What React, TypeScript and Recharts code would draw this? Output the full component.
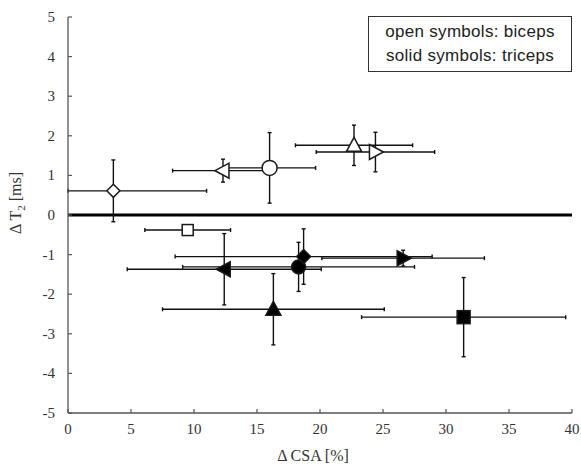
import React from 'react';
import { ScatterChart, Scatter, XAxis, YAxis, ErrorBar, ReferenceLine, Label } from 'recharts';

// Symbol per point: open = biceps, solid = triceps
const markerShapes = [
  'diamond', 'triangleLeft', 'circle', 'triangleUp', 'triangleRight', 'square',
  'triangleLeft', 'circle', 'diamond', 'triangleRight', 'triangleUp', 'square',
];
const markerSolid = [
  false, false, false, false, false, false,
  true, true, true, true, true, true,
];
// ΔCSA [%]
const csaValues = [3.6, 12.3, 16.0, 22.7, 24.4, 9.5, 12.4, 18.3, 18.7, 26.6, 16.3, 31.4];
// ΔT2 [ms]
const t2Values = [0.61, 1.12, 1.19, 1.76, 1.59, -0.38, -1.37, -1.31, -1.05, -1.09, -2.38, -2.58];
// error in ΔCSA
const csaErrors: (number | number[])[] = [[3.6, 7.4], 4.0, 3.65, 4.65, 4.7, 3.4, 7.7, 9.2, 10.2, 6.45, 8.8, 8.1];
// error in ΔT2
const t2Errors = [0.78, 0.29, 0.89, 0.51, 0.5, 0, 0.9, 0.62, 0.7, 0.2, 0.9, 1.0];

const xTicks = [0, 5, 10, 15, 20, 25, 30, 35, 40];
const yTicks = [-5, -4, -3, -2, -1, 0, 1, 2, 3, 4, 5];

const data = csaValues.map((x, i) => ({
  x,
  y: t2Values[i],
  ex: csaErrors[i],
  ey: t2Errors[i],
  shape: markerShapes[i],
  solid: markerSolid[i],
}));

const SERIF = '"Liberation Serif", "Times New Roman", serif';

const Marker = (props: any) => {
  const { cx, cy, payload } = props;
  if (cx == null || cy == null) return null;
  const fill = payload.solid ? '#000' : '#fff';
  const stroke = '#1a1a1a';
  const sw = 1.5;
  switch (payload.shape) {
    case 'circle':
      return <circle cx={cx} cy={cy} r={payload.solid ? 7 : 7.5} fill={fill} stroke={stroke} strokeWidth={sw} />;
    case 'diamond': {
      const d = payload.solid ? 7 : 6.5;
      return <polygon points={`${cx},${cy - d} ${cx + d},${cy} ${cx},${cy + d} ${cx - d},${cy}`} fill={fill} stroke={stroke} strokeWidth={sw} />;
    }
    case 'square': {
      const h = payload.solid ? 6.5 : 5.5;
      return <rect x={cx - h} y={cy - h} width={2 * h} height={2 * h} fill={fill} stroke={stroke} strokeWidth={sw} />;
    }
    case 'triangleUp':
      return <polygon points={`${cx},${cy - 8} ${cx + 7.5},${cy + 6} ${cx - 7.5},${cy + 6}`} fill={fill} stroke={stroke} strokeWidth={sw} />;
    case 'triangleLeft':
      return <polygon points={`${cx - 8},${cy} ${cx + 6},${cy - 7.5} ${cx + 6},${cy + 7.5}`} fill={fill} stroke={stroke} strokeWidth={sw} />;
    case 'triangleRight':
      return <polygon points={`${cx + 8},${cy} ${cx - 6},${cy - 7.5} ${cx - 6},${cy + 7.5}`} fill={fill} stroke={stroke} strokeWidth={sw} />;
    default:
      return null;
  }
};

const XTick = (props: any) => {
  const { x, y, payload } = props;
  return (
    <text x={x} y={y + 11} textAnchor="middle" fontFamily={SERIF} fontSize={15} fill="#333">
      {payload.value}
    </text>
  );
};

const YTick = (props: any) => {
  const { x, y, payload } = props;
  return (
    <text x={x} y={y + 5} textAnchor="end" fontFamily={SERIF} fontSize={15} fill="#333">
      {payload.value}
    </text>
  );
};

const axisLine = { stroke: '#555', strokeWidth: 1.3 };
const tickLine = { stroke: '#555', strokeWidth: 1.2 };

const YTitle = () => (
  <text
    x={21}
    y={203}
    transform="rotate(-90 21 203)"
    textAnchor="middle"
    fontFamily={SERIF}
    fontSize={16}
    fill="#333"
  >
    <tspan>Δ T</tspan>
    <tspan dy={4} fontSize={11}>2</tspan>
    <tspan dy={-4}> [ms]</tspan>
  </text>
);

const XTitle = () => (
  <text x={313} y={461} textAnchor="middle" fontFamily={SERIF} fontSize={16} fill="#333">
    Δ CSA [%]
  </text>
);

export default function App() {
  return (
    <div style={{ position: 'absolute', left: 0, top: 0, width: 581, height: 470, background: '#fff' }}>
      <ScatterChart width={581} height={470} margin={{ top: 17, right: 9, bottom: 0, left: 0 }}>
        <XAxis
          type="number"
          dataKey="x"
          domain={[0, 40]}
          ticks={xTicks}
          allowDataOverflow
          height={57}
          tickSize={-4}
          tickMargin={14}
          tick={<XTick />}
          axisLine={axisLine}
          tickLine={tickLine}
        >
          <Label content={<XTitle />} />
        </XAxis>
        <XAxis
          xAxisId="top"
          orientation="top"
          type="number"
          domain={[0, 40]}
          ticks={xTicks}
          height={0}
          tickSize={-4}
          tick={false}
          axisLine={axisLine}
          tickLine={tickLine}
        />
        <YAxis
          type="number"
          dataKey="y"
          domain={[-5, 5]}
          ticks={yTicks}
          allowDataOverflow
          width={68}
          tickSize={-4}
          tickMargin={17}
          tick={<YTick />}
          axisLine={axisLine}
          tickLine={tickLine}
        >
          <Label content={<YTitle />} />
        </YAxis>
        <YAxis
          yAxisId="right"
          orientation="right"
          type="number"
          domain={[-5, 5]}
          ticks={yTicks}
          width={0}
          tickSize={-4}
          tick={false}
          axisLine={axisLine}
          tickLine={tickLine}
        />
        <ReferenceLine y={0} stroke="#000" strokeWidth={3} />
        <Scatter data={data} shape={<Marker />} isAnimationActive={false}>
          <ErrorBar dataKey="ex" direction="x" width={2} stroke="#111" strokeWidth={1.4} isAnimationActive={false} />
          <ErrorBar dataKey="ey" direction="y" width={2} stroke="#111" strokeWidth={1.4} isAnimationActive={false} />
        </Scatter>
      </ScatterChart>
      <div
        style={{
          position: 'absolute',
          left: 368,
          top: 16,
          width: 204,
          height: 56,
          boxSizing: 'border-box',
          border: '1.3px solid #333',
          background: '#fff',
          fontFamily: '"Liberation Sans", Arial, sans-serif',
          fontSize: 17,
          letterSpacing: 0.3,
          color: '#222',
          textAlign: 'center',
          lineHeight: '24px',
          paddingTop: 3,
          whiteSpace: 'nowrap',
        }}
      >
        <div>open symbols: biceps</div>
        <div>solid symbols: triceps</div>
      </div>
    </div>
  );
}
